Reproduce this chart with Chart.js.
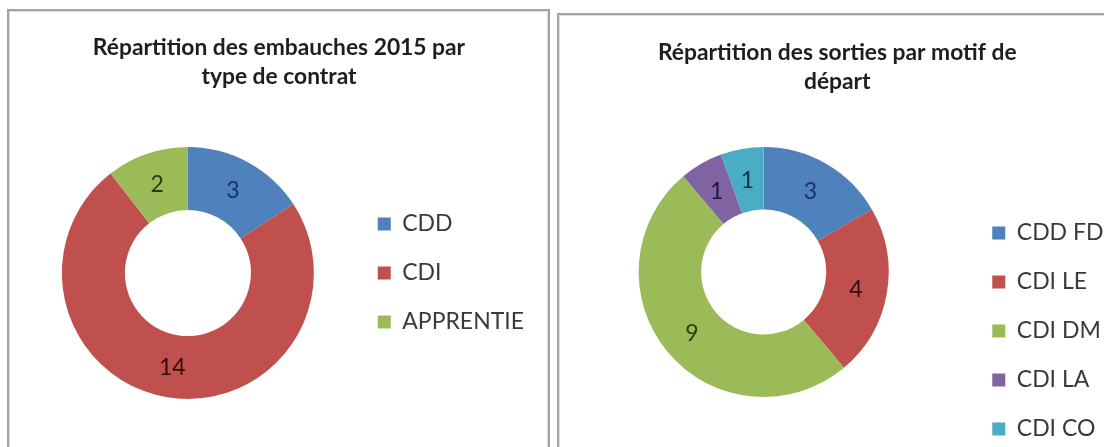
<!DOCTYPE html>
<html>
<head>
<meta charset="utf-8">
<title>Embauches et sorties 2015</title>
<script src="https://cdn.jsdelivr.net/npm/chart.js@4.4.0/dist/chart.umd.min.js"></script>
<style>
	html, body { margin:0; padding:0; background:#fff; overflow:hidden; width:1104px; height:447px; }
	.panel { position:absolute; border:2px solid #a3a3a3; box-shadow: inset 0 0 0 1px #dedede; }
	#panel1 { left:7px; top:9px; width:539px; height:470px; }
	#panel2 { left:557px; top:13px; width:560px; height:470px; }
	.box { position:absolute; }
	#box1 { left:10px; top:12px; width:536px; height:435px; }
	#box2 { left:556px; top:16px; width:558px; height:460px; }
</style>
</head>
<body>
<div class="panel" id="panel1"></div>
<div class="panel" id="panel2"></div>
<div class="box" id="box1"><canvas id="embauches-chart"></canvas></div>
<div class="box" id="box2"><canvas id="sorties-chart"></canvas></div>

<script>
// Données : embauches 2015
var titreEmbauches = ["Répartition des embauches 2015 par", "type de contrat"];
var contrats = ["CDD", "CDI", "APPRENTIE"];
var nbEmbauches = [3, 14, 2];

// Données : sorties
var titreSorties = ["Répartition des sorties par motif de", "départ"];
var motifs = ["CDD FD", "CDI LE", "CDI DM", "CDI LA", "CDI CO"];
var nbSorties = [3, 4, 9, 1, 1];

var couleurs = ["#4F81BD", "#C0504D", "#9BBB59", "#8064A2", "#4BACC6"];
var couleursEtiquettes = ["#1b3560", "#2e0e0e", "#26400c", "#24113a", "#0f3442"];

// écrit la valeur au milieu de chaque part
var etiquettesParts = {
	id: 'etiquettesParts',
	afterDatasetsDraw: function(chart, args, options) {
		var ctx = chart.ctx;
		var meta = chart.getDatasetMeta(0);
		var data = chart.data.datasets[0].data;
		ctx.save();
		ctx.font = '23px Lato';
		ctx.textAlign = 'center';
		ctx.textBaseline = 'middle';
		meta.data.forEach(function(arc, i) {
			var pos = arc.tooltipPosition();
			ctx.fillStyle = options.colors[i];
			ctx.fillText(data[i], pos.x, pos.y + 1);
		});
		ctx.restore();
	}
};

function doughnut(id, labels, data, titre, rayon, opts){
	return new Chart(document.getElementById(id), {
		type: 'doughnut',
		data: {
			labels: labels,
			datasets: [{
				data: data,
				backgroundColor: couleurs.slice(0, data.length),
				borderWidth: 0
			}]
		},
		options: {
			responsive: true,
			maintainAspectRatio: false,
			animation: false,
			cutout: '50%',
			radius: rayon,
			layout: { padding: opts.padding },
			plugins: {
				title: {
					display: true,
					text: titre,
					color: '#1e1e1e',
					font: { family: 'Lato', size: 22.8, weight: 'bold', lineHeight: 29 / 22.8 },
					padding: opts.titlePadding
				},
				legend: {
					position: 'right',
					fullSize: false,
					align: opts.legendAlign,
					labels: {
						boxWidth: 13,
						boxHeight: 13,
						padding: 26,
						color: '#3a3a3a',
						font: { family: 'Lato', size: 23 }
					}
				},
				tooltip: { enabled: false },
				etiquettesParts: { colors: opts.labelColors }
			}
		},
		plugins: [etiquettesParts]
	});
}

doughnut('embauches-chart', contrats, nbEmbauches, titreEmbauches, 126, {
	padding: { left: 14, right: 12, top: 0, bottom: 12.5 },
	titlePadding: { top: 21.5, bottom: 20 },
	legendAlign: 'center',
	labelColors: couleursEtiquettes.slice(0, 3)
});

doughnut('sorties-chart', motifs, nbSorties, titreSorties, 125, {
	padding: { left: 5, right: 0.5, top: 0, bottom: 9.5 },
	titlePadding: { top: 22.5, bottom: -19 },
	legendAlign: 'end',
	labelColors: couleursEtiquettes
});
</script>
</body>
</html>
